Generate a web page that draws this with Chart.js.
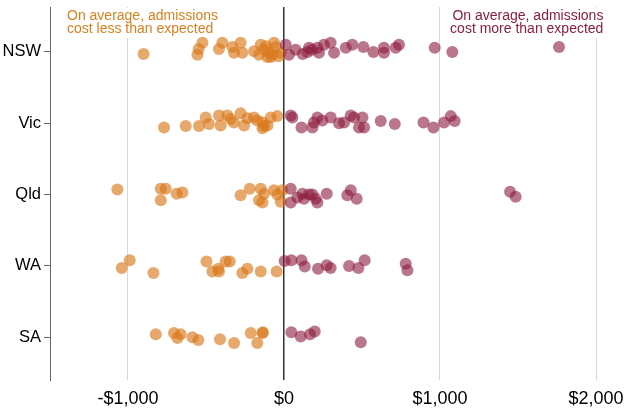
<!DOCTYPE html>
<html>
<head>
<meta charset="utf-8">
<script src="https://cdn.jsdelivr.net/npm/chart.js@4.4.1/dist/chart.umd.min.js"></script>
<style>
  html, body { margin: 0; padding: 0; background: #fff; }
  #wrap { width: 628px; height: 411px; position: relative; }
</style>
</head>
<body>
<div id="wrap"><canvas id="chart"></canvas></div>
<script>
// States, top to bottom
const states = ['NSW', 'Vic', 'Qld', 'WA', 'SA'];
const xTicks = [-1000, 0, 1000, 2000];

// Cost difference per admission ($), with the
// vertical jitter of each dot (fraction of one row)
const nswCost = [-900, -523, -555, -547, -395, -417, -331, -278, -320, -267, -192, -149, -128, -96, -85, -53, -21, -160, -106, -64, -74, -35, -115,
    11, 32, 75, 160, 150, 214, 224, 256, 299, 321, 396, 438, 509, 573, 641, 641, 716, 737, 966, 1079, 1763, 180, 120];
const nswJitter = [0.03, -0.13, 0.04, -0.04, -0.13, -0.04, -0.07, -0.13, 0.01, 0.01, -0.01, -0.10, -0.03, 0, 0.07, -0.07, 0.01, 0.04, 0.07, -0.13, 0.04, 0.06, -0.08,
    -0.10, 0.04, -0.03, -0.06, 0, -0.06, 0.01, -0.10, -0.13, 0.01, -0.06, -0.10, -0.07, 0, -0.06, 0.01, -0.06, -0.10, -0.06, 0, -0.07, -0.03, 0.03];

const vicCost = [-769, -630, -545, -502, -481, -417, -406, -363, -342, -321, -278, -256, -235, -192, -171, -138, -128, -138, -106, -43, -85,
    43, 54, 112, 182, 192, 214, 246, 299, 353, 385, 428, 449, 503, 481, 513, 620, 710, 894, 958, 1026, 1069, 1094];
const vicJitter = [0.06, 0.04, 0.04, -0.08, 0.01, -0.11, 0.03, -0.11, -0.06, -0.01, -0.14, 0.03, -0.07, -0.08, -0.04, -0.01, 0.04, 0.07, 0.03, -0.10, -0.08,
    -0.11, -0.08, 0.06, 0.06, -0.01, -0.08, -0.04, -0.08, 0, -0.01, -0.11, -0.08, -0.08, 0.06, 0.06, -0.03, 0.01, -0.01, 0.06, -0.01, -0.10, -0.03];

const qldCost = [-1068, -790, -758, -790, -688, -651, -278, -220, -149, -128, -160, -138, -64, -43, -21, -11,
    43, 43, 118, 128, 160, 182, 214, 203, 274, 406, 428, 466, 1449, 1485, 86];
const qldJitter = [-0.07, -0.08, -0.08, 0.08, -0.01, -0.03, 0.01, -0.08, -0.08, -0.01, 0.08, 0.11, -0.06, 0, 0.10, -0.06,
    -0.08, 0.11, -0.01, 0.06, 0, 0, 0.11, 0.06, -0.01, 0.01, -0.06, 0.06, -0.04, 0.03, 0.04];

const waCost = [-989, -1040, -837, -497, -459, -421, -417, -374, -348, -267, -235, -149, -47,
    4, 47, 112, 133, 218, 274, 299, 417, 477, 517, 780, 791];
const waJitter = [-0.08, 0.03, 0.10, -0.06, 0.08, 0.04, 0.08, -0.06, -0.06, 0.10, 0.04, 0.08, 0.08,
    -0.07, -0.08, -0.08, 0.01, 0.04, -0.01, 0.03, 0, 0.03, -0.08, -0.03, 0.06];

const saCost = [-822, -705, -662, -683, -587, -549, -410, -320, -213, -171, -135, -138,
    47, 107, 167, 197, 492];
const saJitter = [-0.04, -0.06, -0.04, 0.01, 0, 0.04, 0.03, 0.08, -0.06, 0.08, -0.07, -0.06,
    -0.07, -0.01, -0.04, -0.08, 0.07];

const costs = [nswCost, vicCost, qldCost, waCost, saCost];
const jitters = [nswJitter, vicJitter, qldJitter, waJitter, saJitter];

const ORANGE = 'rgba(218, 122, 28, 0.65)';
const MAROON = 'rgba(140, 26, 62, 0.6)';
const FONT = "'Liberation Sans', Arial, Helvetica, sans-serif";

function points(keep) {
    const out = [];
    costs.forEach((list, row) => {
        list.forEach((v, j) => {
            if (keep(v)) out.push({ x: v, y: row + jitters[row][j] });
        });
    });
    return out;
}

// Corner notes, drawn on a white patch so grid lines stop below them
const notes = {
    id: 'notes',
    beforeDatasetsDraw(chart) {
        const { ctx, chartArea } = chart;
        ctx.save();
        ctx.font = '14px ' + FONT;
        ctx.textBaseline = 'middle';
        const draw = (lines, x, align, color) => {
            ctx.textAlign = align;
            const w = Math.max(...lines.map(l => ctx.measureText(l).width));
            const left = align === 'left' ? x : x - w;
            ctx.fillStyle = '#fff';
            ctx.fillRect(left - 3, chartArea.top + 1, w + 6, 30);
            ctx.fillStyle = color;
            lines.forEach((l, i) => ctx.fillText(l, x, chartArea.top + 9 + i * 13.5));
        };
        draw(['On average, admissions', 'cost less than expected'], chartArea.left + 17, 'left', '#d9801f');
        draw(['On average, admissions', 'cost more than expected'], chartArea.right - 16, 'right', '#8c1d3e');
        ctx.restore();
    }
};

new Chart(document.getElementById('chart'), {
    type: 'scatter',
    data: {
        datasets: [
            {
                label: 'More than expected',
                data: points(v => v >= 0),
                backgroundColor: MAROON,
                borderWidth: 0,
                pointRadius: 6,
                pointHoverRadius: 6
            },
            {
                label: 'Less than expected',
                data: points(v => v < 0),
                backgroundColor: ORANGE,
                borderWidth: 0,
                pointRadius: 6,
                pointHoverRadius: 6
            }
        ]
    },
    options: {
        responsive: true,
        maintainAspectRatio: false,
        animation: false,
        layout: { padding: { top: 7, right: 8.6, left: 0, bottom: 0 } },
        plugins: {
            legend: { display: false },
            tooltip: { enabled: false }
        },
        scales: {
            x: {
                type: 'linear',
                min: -1500,
                max: 2150,
                afterBuildTicks: (scale) => { scale.ticks = xTicks.map(v => ({ value: v })); },
                afterFit: (scale) => { scale.height = 31; scale.paddingLeft = 0; scale.paddingRight = 0; },
                border: { display: false },
                grid: {
                    drawTicks: false,
                    color: (c) => (c.tick && c.tick.value === 0 ? '#333' : '#d8d8d8'),
                    lineWidth: (c) => (c.tick && c.tick.value === 0 ? 1.5 : 1)
                },
                ticks: {
                    padding: 8,
                    color: '#000',
                    font: { family: FONT, size: 18 },
                    callback: (v) => (v < 0 ? '-$' : '$') + Math.abs(v).toLocaleString('en-US')
                }
            },
            y: {
                type: 'linear',
                reverse: true,
                min: -0.63,
                max: 4.6,
                afterBuildTicks: (scale) => { scale.ticks = states.map((s, i) => ({ value: i })); },
                afterFit: (scale) => { scale.width = 50; scale.paddingTop = 0; scale.paddingBottom = 0; },
                border: { display: true, color: '#666', width: 1 },
                grid: {
                    drawOnChartArea: false,
                    drawTicks: true,
                    tickLength: 6,
                    color: '#666'
                },
                ticks: {
                    padding: 3,
                    color: '#000',
                    font: { family: FONT, size: 16.5 },
                    callback: (v) => states[v]
                }
            }
        }
    },
    plugins: [notes]
});
</script>
</body>
</html>
